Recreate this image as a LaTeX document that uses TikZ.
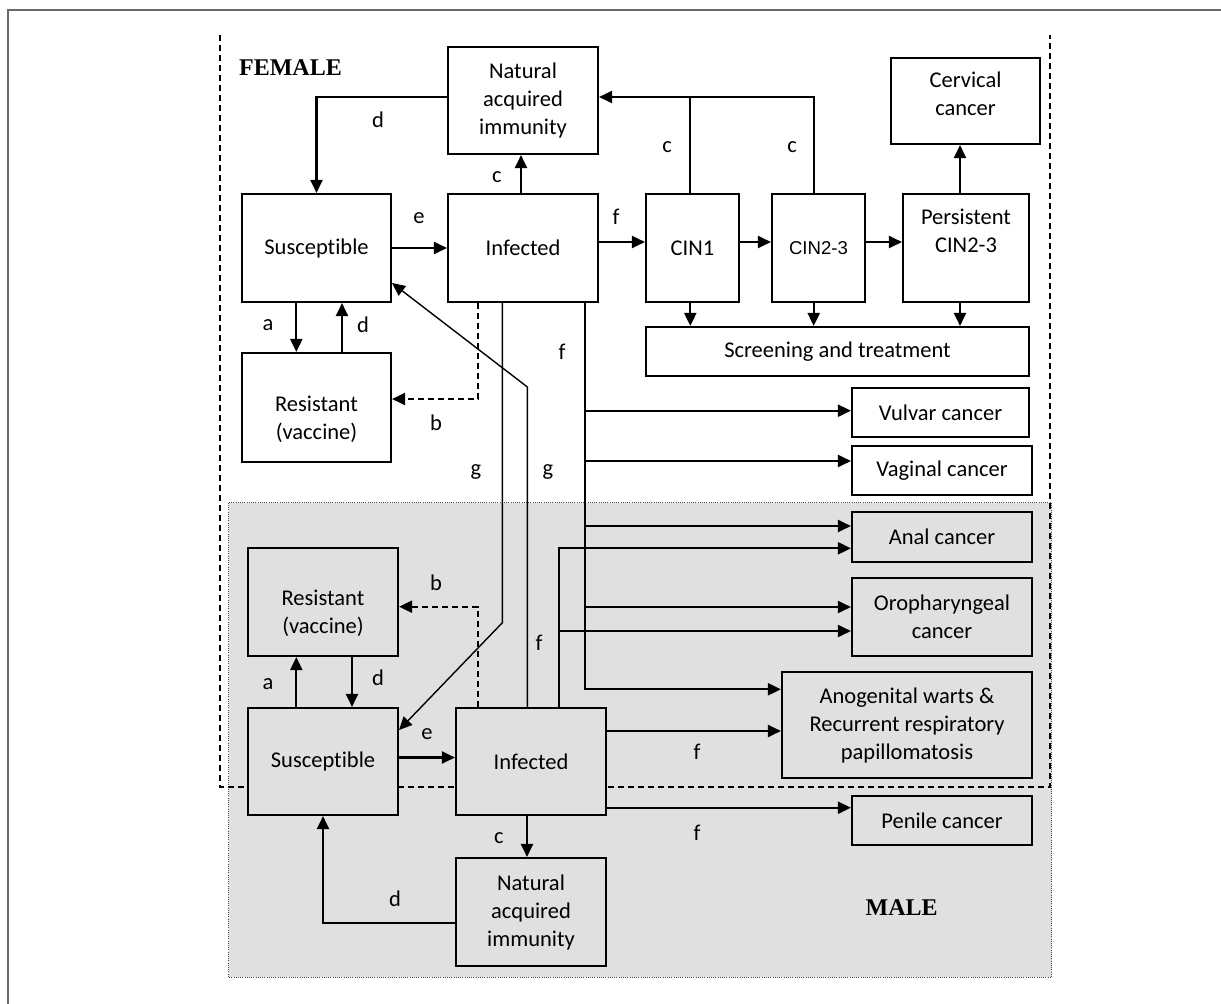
\documentclass[tikz,border=0pt]{standalone}
\usepackage{fontspec}
\setmainfont{Carlito}[Ligatures=NoCommon]
\newfontfamily\arialf{Liberation Sans}
\newfontfamily\timesf{Liberation Serif}
\usetikzlibrary{arrows.meta}
\definecolor{maleg}{HTML}{E0E0E0}
\definecolor{framegray}{HTML}{6A6A6A}
\begin{document}
\begin{tikzpicture}[x=1pt,y=-1pt,
  every node/.style={font=\fontsize{22.5}{28}\selectfont, inner sep=0pt},
  box/.style={draw, line width=2.1pt, fill=white, align=center},
  mbox/.style={box, fill=maleg},
  txt/.style={align=center},
  lab/.style={},
  sexlab/.style={font=\timesf\bfseries\fontsize{24}{28}\selectfont},
  arr/.style={line width=2.1pt, -{Triangle[length=13pt,width=12pt]}},
  thinarr/.style={line width=1.4pt, -{Triangle[length=13pt,width=12pt]}},
  ln/.style={line width=2.1pt},
  dasharr/.style={arr, dash pattern=on 6pt off 4pt},
  region/.style={line width=1.5pt, dash pattern=on 6pt off 4pt},
  shade/.style={fill=maleg, draw=black!70, line width=0.8pt, dash pattern=on 1pt off 1.2pt}
]
\useasboundingbox (0,0) rectangle (1221,1004);
% outer frame
\draw[framegray, line width=2pt] (8,1004) -- (8,10) -- (1221,10);
% male shaded region
\draw[shade] (228.5,502.7) rectangle (1051.5,977.3);
% female dashed region (open top)
\draw[region] (220,35) -- (220,787) -- (1050,787) -- (1050,35);

% labels of regions
\node[sexlab] (female) at (290.5,68) {FEMALE};
\node[sexlab] (male) at (901.7,908) {MALE};

% female boxes
\node[box, minimum width=150pt, minimum height=107pt] (fNat) at (523,100.5) {Natural\\acquired\\immunity};
\node[box, minimum width=149pt, minimum height=108pt] (fSus) at (316.5,248) {Susceptible};
\node[box, minimum width=150pt, minimum height=108pt] (fInf) at (523,248) {Infected};
\node[box, minimum width=93pt, minimum height=108pt] (CIN1) at (692.5,248) {CIN1};
\node[box, minimum width=93pt, minimum height=108pt] (CIN23) at (818.5,248) {\arialf\fontsize{18.6}{24}\selectfont CIN2-3};
\node[box, minimum width=126pt, minimum height=108pt] (PCIN) at (966,248) {};
\node[txt] (PCINt) at (966,231) {Persistent\\CIN2-3};
\node[box, minimum width=149pt, minimum height=86pt] (Cerv) at (965.5,101) {};
\node[txt] (Cervt) at (965.5,94) {Cervical\\cancer};
\node[box, minimum width=383pt, minimum height=49pt] (Screen) at (837.5,351.5) {Screening and treatment};
\node[box, minimum width=149pt, minimum height=109pt] (fRes) at (316.5,407.5) {};
\node[txt] (fRest) at (316.5,419) {Resistant\\(vaccine)};
\node[box, minimum width=177pt, minimum height=49pt] (Vulvar) at (940.5,412.5) {Vulvar cancer};
\node[box, minimum width=180pt, minimum height=49pt] (Vaginal) at (942,470.5) {Vaginal cancer};

% male-region boxes
\node[mbox, minimum width=180pt, minimum height=50pt] (Anal) at (942,537) {Anal cancer};
\node[mbox, minimum width=180pt, minimum height=78pt] (Oro) at (942,617) {Oropharyngeal\\cancer};
\node[mbox, minimum width=250pt, minimum height=106pt] (Anog) at (907,725) {Anogenital warts \&\\Recurrent respiratory\\papillomatosis};
\node[mbox, minimum width=180pt, minimum height=49pt] (Penile) at (942,820.5) {Penile cancer};
\node[mbox, minimum width=150pt, minimum height=108pt] (mRes) at (323,602) {};
\node[txt] (mRest) at (323,613) {Resistant\\(vaccine)};
\node[mbox, minimum width=150pt, minimum height=107pt] (mSus) at (323,761.5) {Susceptible};
\node[mbox, minimum width=150pt, minimum height=107pt] (mInf) at (531,761.5) {Infected};
\node[mbox, minimum width=150pt, minimum height=108pt] (mNat) at (531,912) {Natural\\acquired\\immunity};

% ---------- female connectors
\draw[arr] ([yshift=3.5pt]fNat.west) -| (fSus.north);
\draw[arr] (fSus.east) -- (fInf.west);
\draw[arr] ([xshift=-2pt]fInf.north) -- ([xshift=-2pt]fNat.south);
\draw[arr] ([yshift=6pt]fInf.east) -- ([yshift=6pt]CIN1.west);
\draw[arr] ([yshift=6pt]CIN1.east) -- ([yshift=6pt]CIN23.west);
\draw[arr] ([yshift=6pt]CIN23.east) -- ([yshift=6pt]PCIN.west);
\coordinate (cTop) at ([yshift=3.5pt]fNat.east);
\coordinate (c1) at ([xshift=-2.2pt]CIN1.north);
\coordinate (c2) at ([xshift=-4.8pt]CIN23.north);
\draw[arr] (c2) |- (cTop);
\draw[ln] (c1) -- (c1 |- cTop);
\draw[arr] (c1 |- CIN1.south) -- (c1 |- Screen.north);
\draw[arr] (c2 |- CIN23.south) -- (c2 |- Screen.north);
\coordinate (p1) at ([xshift=-6pt]PCIN.north);
\draw[arr] (p1) -- (p1 |- Cerv.south);
\draw[arr] (p1 |- PCIN.south) -- (p1 |- Screen.north);
% a / d female
\coordinate (fa) at ([xshift=-20.2pt]fSus.south);
\coordinate (fd) at ([xshift=25.5pt]fSus.south);
\draw[arr] (fa) -- (fa |- fRes.north);
\draw[arr] (fd |- fRes.north) -- (fd);
% b female (dashed)
\draw[dasharr] ([xshift=-45.3pt]fInf.south) |- ([yshift=8.5pt]fRes.east);
% g lines
\draw[thinarr] ([xshift=-20.7pt]fInf.south) -- ++(0,319.7) -- ([yshift=31.5pt]mSus.east);
\draw[thinarr] ([xshift=-3.7pt]mInf.north) -- ++(0,-320) -- ([yshift=-35pt]fSus.east);
% f main trunk
\coordinate (fx) at ([xshift=62pt]fInf.south);
\coordinate (vulIn) at ([yshift=1.8pt]Vulvar.west);
\coordinate (vagIn) at ([yshift=9.5pt]Vaginal.west);
\coordinate (anIn1) at ([yshift=11pt]Anal.west);
\coordinate (orIn1) at ([yshift=10pt]Oro.west);
\coordinate (agIn1) at ([yshift=35.7pt]Anog.west);
\draw[arr] (fx) |- (agIn1);
\draw[arr] (fx |- vulIn) -- (vulIn);
\draw[arr] (fx |- vagIn) -- (vagIn);
\draw[arr] (fx |- anIn1) -- (anIn1);
\draw[arr] (fx |- orIn1) -- (orIn1);

% ---------- male connectors
\coordinate (mfx) at ([xshift=28.3pt]mInf.north);
\coordinate (anIn2) at ([yshift=-11.3pt]Anal.west);
\coordinate (orIn2) at ([yshift=-14pt]Oro.west);
\draw[arr] (mfx) |- (anIn2);
\draw[arr] (mfx |- orIn2) -- (orIn2);
\coordinate (agIn2) at ([yshift=-6pt]Anog.west);
\draw[arr] (mInf.east |- agIn2) -- (agIn2);
\coordinate (penIn) at ([yshift=12.8pt]Penile.west);
\draw[arr] (mInf.east |- penIn) -- (penIn);
\coordinate (ma) at ([xshift=-26.7pt]mSus.north);
\coordinate (md) at ([xshift=29pt]mSus.north);
\draw[arr] (ma) -- (ma |- mRes.south);
\draw[arr] (md |- mRes.south) -- (md);
\draw[dasharr] ([xshift=-53.3pt]mInf.north) |- ([yshift=-4.7pt]mRes.east);
\draw[arr] ([yshift=4pt]mSus.east) -- ([yshift=4pt]mInf.west);
\draw[arr] ([xshift=-4pt]mInf.south) -- ([xshift=-4pt]mNat.north);
\draw[arr] ([yshift=-11.3pt]mNat.west) -| (mSus.south);

% ---------- letter labels
\node[lab] (l1) at (378,120) {d};
\node[lab] (l2) at (419,218) {e};
\node[lab] (l3) at (497,177) {c};
\node[lab] (l4) at (616,217) {f};
\node[lab] (l5) at (667,147) {c};
\node[lab] (l6) at (792,147) {c};
\node[lab] (l7) at (268,325) {a};
\node[lab] (l8) at (363,325) {d};
\node[lab] (l9) at (436,423) {b};
\node[lab] (l10) at (562,352) {f};
\node[lab] (l11) at (476,472) {g};
\node[lab] (l12) at (548,472) {g};
\node[lab] (l13) at (436,583) {b};
\node[lab] (l14) at (539,643) {f};
\node[lab] (l15) at (268,684) {a};
\node[lab] (l16) at (378,678) {d};
\node[lab] (l17) at (427,734) {e};
\node[lab] (l18) at (697,752) {f};
\node[lab] (l19) at (697,833) {f};
\node[lab] (l20) at (499,838) {c};
\node[lab] (l21) at (395,899) {d};
\end{tikzpicture}
\end{document}
